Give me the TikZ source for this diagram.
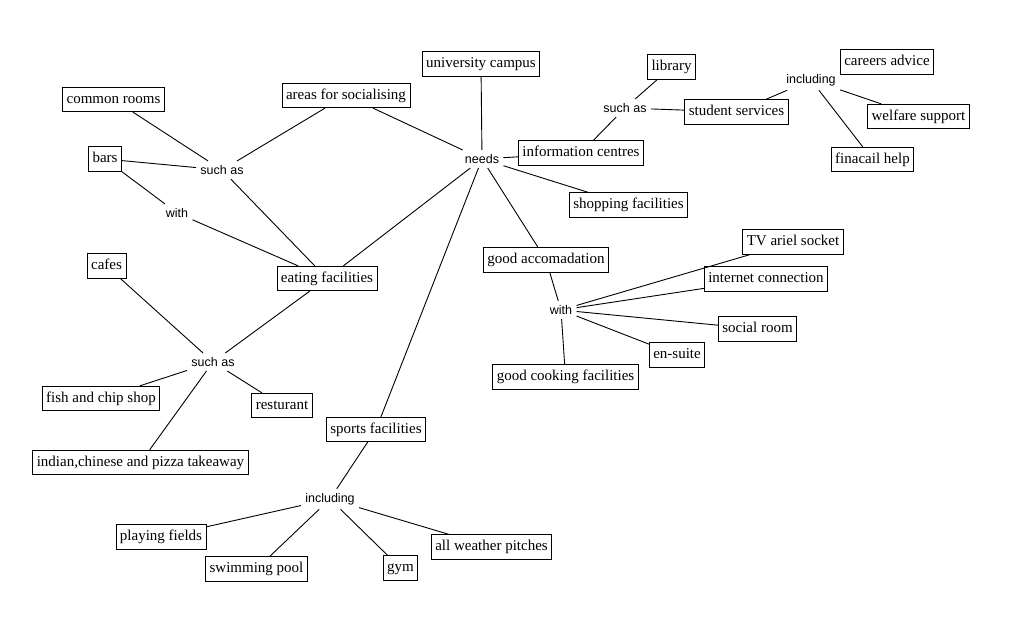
\documentclass[tikz,border=0pt]{standalone}
\usepackage{fontspec}
\setmainfont{Liberation Serif}
\setsansfont{Liberation Sans}
\usepackage{tikz}

\begin{document}
\begin{tikzpicture}[x=1pt,y=-1pt,line width=0.9pt,
  concept/.style={draw, line width=0.8pt, font=\fontsize{15}{18}\selectfont, inner xsep=4pt, inner ysep=5pt, text height=11pt, text depth=3.5pt},
  linkword/.style={font=\sffamily\fontsize{12.5}{14}\selectfont, inner xsep=4pt, inner ysep=4pt}]
\useasboundingbox (0,0) rectangle (1009,621);

% concepts
\node[concept] (univ) at (481,64) {university campus};
\node[concept] (areas) at (346,95.5) {areas for socialising};
\node[concept] (common) at (113.5,99.5) {common rooms};
\node[concept] (bars) at (105,159) {bars};
\node[concept] (library) at (671.5,67) {library};
\node[concept] (careers) at (887,62) {careers advice};
\node[concept] (student) at (736.5,112) {student services};
\node[concept] (welfare) at (918.5,116.5) {welfare support};
\node[concept] (info) at (581,153) {information centres};
\node[concept] (finacail) at (872.5,159.5) {finacail help};
\node[concept] (shopping) at (628.5,205) {shopping facilities};
\node[concept] (tv) at (793,242) {TV ariel socket};
\node[concept] (goodacc) at (546,260) {good accomadation};
\node[concept] (eating) at (327,278.5) {eating facilities};
\node[concept] (cafes) at (106.5,266) {cafes};
\node[concept] (internet) at (766,279) {internet connection};
\node[concept] (social) at (757.5,329) {social room};
\node[concept] (ensuite) at (677,355) {en-suite};
\node[concept] (cooking) at (565.5,377) {good cooking facilities};
\node[concept] (fish) at (101,398.5) {fish and chip shop};
\node[concept] (rest) at (282,405.5) {resturant};
\node[concept] (sports) at (376,429.5) {sports facilities};
\node[concept] (indian) at (140.5,462.5) {indian,chinese and pizza takeaway};
\node[concept] (playing) at (161,537) {playing fields};
\node[concept] (pitches) at (491.5,547) {all weather pitches};
\node[concept] (pool) at (256.5,569) {swimming pool};
\node[concept] (gym) at (400.5,568) {gym};

% linking words
\node[linkword] (needs) at (482,159) {needs};
\node[linkword] (suchasA) at (222,170) {such as};
\node[linkword] (withA) at (177,213) {with};
\node[linkword] (suchasB) at (625,108) {such as};
\node[linkword] (inclA) at (811,80) {including};
\node[linkword] (withB) at (561,310) {with};
\node[linkword] (suchasC) at (213,362) {such as};
\node[linkword] (inclB) at (330,499) {including};

% connectors
\draw (needs) -- (univ);
\draw (needs) -- (areas);
\draw (needs) -- (info);
\draw (needs) -- (shopping);
\draw (needs) -- (goodacc);
\draw (needs) -- (eating);
\draw (needs) -- (sports);

\draw (areas) -- (suchasA);
\draw (common) -- (suchasA);
\draw (bars) -- (suchasA);
\draw (suchasA) -- (eating);
\draw (bars) -- (withA);
\draw (withA) -- (eating);

\draw (info) -- (suchasB);
\draw (suchasB) -- (library);
\draw (suchasB) -- (student);
\draw (student) -- (inclA);
\draw (inclA) -- (careers);
\draw (inclA) -- (welfare);
\draw (inclA) -- (finacail);

\draw (goodacc) -- (withB);
\draw (withB) -- (cooking);
\draw (withB) -- (tv);
\draw (withB) -- (internet);
\draw (withB) -- (social);
\draw (withB) -- (ensuite);

\draw (eating) -- (suchasC);
\draw (cafes) -- (suchasC);
\draw (suchasC) -- (fish);
\draw (suchasC) -- (rest);
\draw (suchasC) -- (indian);

\draw (sports) -- (inclB);
\draw (inclB) -- (playing);
\draw (inclB) -- (pool);
\draw (inclB) -- (gym);
\draw (inclB) -- (pitches);
\end{tikzpicture}
\end{document}
